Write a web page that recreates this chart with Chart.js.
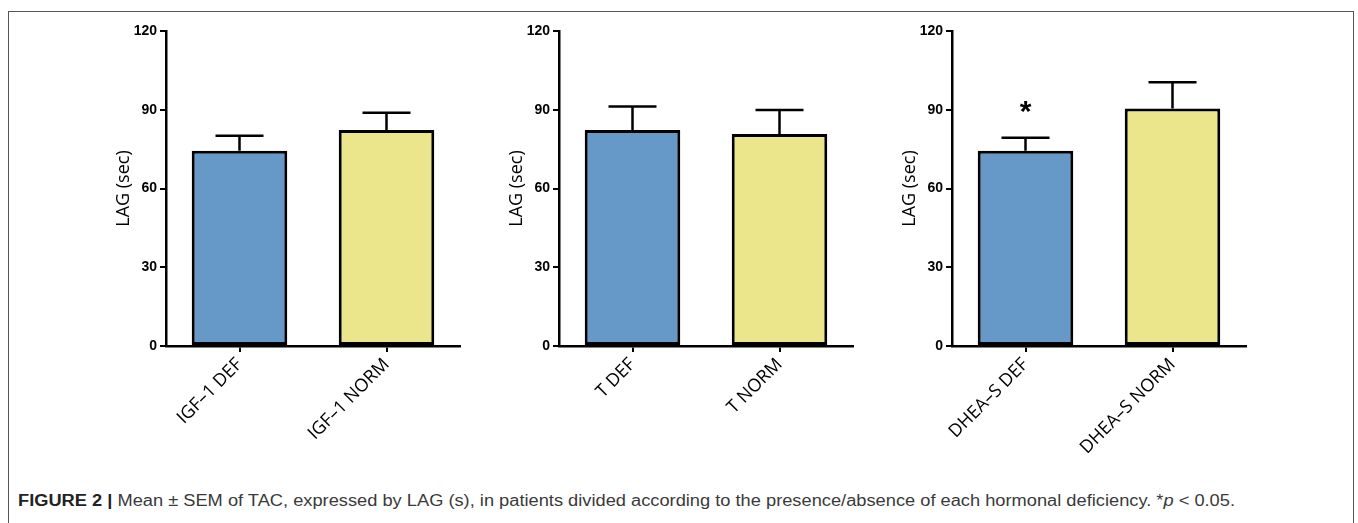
<!DOCTYPE html>
<html>
<head>
<meta charset="utf-8">
<script src="https://cdn.jsdelivr.net/npm/chart.js@4.4.1/dist/chart.umd.min.js"></script>
<style>
  html, body { margin: 0; padding: 0; background: #fff; }
  body { width: 1358px; height: 523px; position: relative; overflow: hidden; }
  .frame { position: absolute; left: 8px; top: 11px; width: 1346px; height: 600px; border: 1px solid #555; box-sizing: border-box; }
  .panel { position: absolute; top: 0; height: 470px; }
  .caption { position: absolute; left: 18px; top: 492px; white-space: nowrap; font-family: "Liberation Sans", Arial, sans-serif; font-size: 16px; color: #3a3a3a; transform-origin: left top; }
  .caption b { color: #222; }
</style>
</head>
<body>
<div class="frame"></div>
<div class="panel" id="p1"><canvas id="c1"></canvas></div>
<div class="panel" id="p2"><canvas id="c2"></canvas></div>
<div class="panel" id="p3"><canvas id="c3"></canvas></div>
<div class="caption" id="caption"><b>FIGURE 2 |</b> Mean ± SEM of TAC, expressed by LAG (s), in patients divided according to the presence/absence of each hormonal deficiency. *<i>p</i> &lt; 0.05.</div>

<script>
// ---- data ----
const yTicks = [0, 30, 60, 90, 120];

const igfLabels = ['IGF–1 DEF', 'IGF–1 NORM'];
const igfMeans  = [74.4, 82.3];
const igfSem    = [5.7, 6.6];
const igfMarks  = ['', ''];

const tLabels = ['T DEF', 'T NORM'];
const tMeans  = [82.3, 80.8];
const tSem    = [8.9, 9.1];
const tMarks  = ['', ''];

const dheaLabels = ['DHEA–S DEF', 'DHEA–S NORM'];
const dheaMeans  = [74.4, 90.5];
const dheaSem    = [4.9, 10.0];
const dheaMarks  = ['*', ''];

const barColors = ['#6698C8', '#EBE58B'];

// ---- layout ----
const AXIS_X = [166, 559, 952];   // page x of each y axis
const Y_AXIS_W = 53;
const PLOT_W = 294;
const PAD_R = 3;
const CANVAS_H = 470;
const PLOT_BOTTOM = 346;
const PLOT_TOP = 31;

// error bars (upper arm only) + significance marks
const errorBars = {
    id: 'errorBars',
    afterDatasetsDraw(chart, args, opts) {
        const ctx = chart.ctx;
        const yScale = chart.scales.y;
        const meta = chart.getDatasetMeta(0);
        const ds = chart.data.datasets[0];
        ctx.save();
        ctx.strokeStyle = '#000';
        ctx.lineWidth = 2.5;
        meta.data.forEach((bar, i) => {
            const top = yScale.getPixelForValue(ds.data[i] + opts.sem[i]);
            const cap = 24;
            ctx.beginPath();
            ctx.moveTo(bar.x, bar.y);
            ctx.lineTo(bar.x, top);
            ctx.moveTo(bar.x - cap, top);
            ctx.lineTo(bar.x + cap, top);
            ctx.stroke();
            if (opts.marks[i]) {
                ctx.fillStyle = '#000';
                ctx.font = 'bold 30px "Liberation Sans", Arial, sans-serif';
                ctx.textAlign = 'center';
                ctx.textBaseline = 'alphabetic';
                ctx.fillText(opts.marks[i], bar.x, top - 17);
            }
        });
        ctx.restore();
    }
};

function makePanel(idx, labels, means, sem, marks) {
    const wrap = document.getElementById('p' + (idx + 1));
    const w = Y_AXIS_W + PLOT_W + PAD_R;
    wrap.style.left = (AXIS_X[idx] - Y_AXIS_W) + 'px';
    wrap.style.width = w + 'px';
    const canvas = document.getElementById('c' + (idx + 1));
    new Chart(canvas, {
        type: 'bar',
        data: {
            labels: labels,
            datasets: [{
                data: means,
                backgroundColor: barColors,
                borderColor: '#000',
                borderWidth: 3,
                borderSkipped: false,
                barPercentage: 0.65,
                categoryPercentage: 1.0
            }]
        },
        options: {
            responsive: true, maintainAspectRatio: false, animation: false,
            layout: { padding: { top: PLOT_TOP, right: PAD_R, bottom: 0, left: 0 } },
            plugins: {
                legend: { display: false },
                tooltip: { enabled: false },
                errorBars: { sem: sem, marks: marks }
            },
            scales: {
                x: {
                    grid: { display: true, drawOnChartArea: false, offset: false, drawTicks: true, tickLength: 6, color: '#000', lineWidth: 2 },
                    border: { display: true, color: '#000', width: 2.5 },
                    ticks: { color: '#000', minRotation: 45, maxRotation: 45, padding: 2, font: { family: 'Open Sans', size: 18 } },
                    afterFit: s => { s.height = CANVAS_H - PLOT_BOTTOM; }
                },
                y: {
                    min: 0, max: 120,
                    afterBuildTicks: s => { s.ticks = yTicks.map(v => ({ value: v })); },
                    grid: { display: true, drawOnChartArea: false, drawTicks: true, tickLength: 6, color: '#000', lineWidth: 2 },
                    border: { display: true, color: '#000', width: 2.5 },
                    ticks: { color: '#000', padding: 3, font: { family: 'Liberation Sans', size: 14, weight: 'bold' } },
                    title: { display: true, text: 'LAG (sec)', color: '#000', padding: 0, font: { family: 'Open Sans', size: 18 } },
                    afterFit: s => { s.width = Y_AXIS_W; }
                }
            }
        },
        plugins: [errorBars]
    });
}

makePanel(0, igfLabels, igfMeans, igfSem, igfMarks);
makePanel(1, tLabels, tMeans, tSem, tMarks);
makePanel(2, dheaLabels, dheaMeans, dheaSem, dheaMarks);

// stretch caption to the width it has in the figure
const cap = document.getElementById('caption');
const capW = cap.getBoundingClientRect().width;
cap.style.transform = 'scaleX(' + (1217 / capW) + ')';
</script>
</body>
</html>
